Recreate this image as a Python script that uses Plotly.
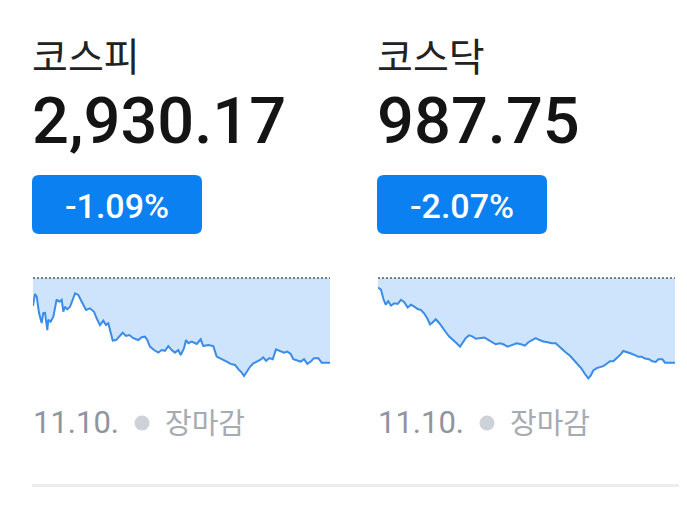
import plotly.graph_objects as go

# ---------------- data ----------------
names = ["코스피", "코스닥"]
closes = [2930.17, 987.75]
changes_pct = [-1.09, -2.07]
date_label = "11.10."
status_label = "장마감"

# minutes since 09:00
kospi_t = [0, 2.6, 4.9, 7.9, 11.4, 13.5, 15.8, 18.8, 20.1, 23.2, 26.7, 31.1, 34.5, 37.7, 39.8, 42.0, 45.0,
           48.6, 55.2, 59.5, 64.0, 69.6, 74.8, 80.1, 83.6, 88.0, 92.3, 95.9, 98.9, 102.0, 104.7, 109.0,
           113.3, 117.8, 122.1, 126.5, 131.7, 138.3, 142.7, 147.1, 150.1, 153.6, 158.9, 164.5, 169.0,
           173.3, 177.7, 182.1, 186.5, 190.8, 194.0, 198.3, 200.9, 203.9, 208.4, 215.0, 220.2, 223.6,
           230.2, 236.8, 241.2, 245.6, 249.9, 254.4, 259.6, 265.3, 269.6, 274.1, 277.1, 280.6, 285.0,
           289.3, 294.5, 298.1, 302.4, 306.0, 310.3, 314.8, 319.1, 324.4, 329.6, 334.0, 338.4, 341.8,
           346.3, 351.5, 355.9, 360.2, 364.7, 369.0, 374.7, 379.1, 390]
kospi_v = [2951.8, 2956.4, 2955.3, 2949.1, 2945.3, 2949.1, 2949.2, 2942.6, 2946.5, 2945.8, 2947.7, 2954.3,
           2953.4, 2954.1, 2949.6, 2951.5, 2950.5, 2951.5, 2956.6, 2956.0, 2953.4, 2950.3, 2950.9, 2949.6,
           2947.1, 2944.5, 2946.2, 2944.5, 2945.2, 2942.0, 2938.6, 2938.8, 2940.1, 2941.6, 2940.4, 2940.7,
           2939.5, 2938.8, 2939.9, 2940.1, 2938.8, 2936.3, 2935.0, 2934.0, 2935.0, 2934.7, 2936.5, 2935.0,
           2934.0, 2935.0, 2933.1, 2935.7, 2938.8, 2937.6, 2938.2, 2937.3, 2939.1, 2936.5, 2936.9, 2936.5,
           2932.5, 2931.9, 2931.5, 2930.6, 2929.7, 2929.3, 2927.7, 2926.4, 2925.1, 2926.7, 2928.6, 2929.9,
           2930.6, 2931.2, 2932.2, 2930.9, 2931.9, 2931.5, 2935.3, 2934.7, 2934.0, 2934.4, 2933.5, 2931.5,
           2931.2, 2930.6, 2931.5, 2929.7, 2930.6, 2931.9, 2931.9, 2930.17, 2930.17]

kosdaq_t = [0, 3.9, 7.0, 10.1, 13.5, 17.1, 21.4, 25.9, 30.2, 34.5, 39.0, 43.3, 47.7, 52.1, 56.5, 60.8, 65.3,
            68.3, 71.3, 75.8, 80.1, 84.4, 88.9, 93.2, 98.9, 103.3, 107.7, 110.7, 115.2, 119.5, 123.8, 128.3,
            133.9, 139.6, 144.8, 150.1, 154.5, 160.2, 164.5, 170.3, 175.6, 182.1, 187.8, 193.0, 197.4, 202.6,
            207.1, 211.4, 217.1, 222.8, 228.1, 233.3, 239.0, 245.6, 252.1, 257.8, 263.0, 267.5, 271.8, 276.2,
            279.3, 282.7, 287.2, 291.5, 295.9, 300.3, 304.6, 309.0, 313.4, 317.8, 322.1, 326.6, 332.2, 337.5,
            341.8, 346.3, 350.6, 355.9, 360.2, 364.7, 368.1, 373.4, 376.9, 390]
kosdaq_v = [1006.28, 1005.78, 1003.50, 1002.06, 1002.90, 1001.81, 1002.39, 1002.24, 1003.25, 1002.65, 1001.38,
            1002.06, 1001.56, 1000.98, 1000.73, 999.87, 998.45, 997.19, 997.60, 998.45, 997.60, 996.33, 995.32,
            994.24, 993.40, 992.55, 991.71, 992.55, 993.81, 994.49, 994.24, 993.66, 993.81, 993.98, 993.40,
            992.80, 992.29, 992.55, 992.29, 991.71, 992.14, 992.55, 992.29, 991.96, 992.80, 993.40, 993.81,
            993.40, 992.97, 992.80, 992.55, 992.55, 991.46, 990.45, 989.44, 988.35, 987.24, 986.23, 984.97,
            983.88, 984.57, 985.83, 986.41, 986.66, 986.91, 987.50, 988.10, 988.10, 988.76, 989.62, 990.63,
            990.27, 990.02, 989.62, 989.19, 989.19, 988.76, 988.61, 988.10, 987.92, 988.61, 988.61, 987.75,
            987.75]

series_t = [kospi_t, kosdaq_t]
series_v = [kospi_v, kosdaq_v]

# ---------------- styling / layout ----------------
# the page body has an 8px margin, so the figure is drawn 8px in from the window corner
OFF = 8
W, H = 687 - OFF, 524 - OFF
def px(x): return (x - OFF) / W
def py(y): return 1 - (y - OFF) / H

LINE = "#3b8ce6"
FILL = "rgba(205,228,252,1)"
BADGE = "#0b80f1"
col_left = [33, 378]

fig = go.Figure()
annotations = []
shapes = []

def rrect(x0, y0, x1, y1, r):
    rx, ry = r / W, r / H
    X0, X1 = px(x0), px(x1)
    Yt, Yb = py(y0), py(y1)
    return (f"M {X0+rx},{Yt} L {X1-rx},{Yt} Q {X1},{Yt} {X1},{Yt-ry} "
            f"L {X1},{Yb+ry} Q {X1},{Yb} {X1-rx},{Yb} L {X0+rx},{Yb} "
            f"Q {X0},{Yb} {X0},{Yb+ry} L {X0},{Yt-ry} Q {X0},{Yt} {X0+rx},{Yt} Z")

for i in range(2):
    xa = "x" if i == 0 else "x2"
    ya = "y" if i == 0 else "y2"
    prev = closes[i] / (1 + changes_pct[i] / 100)
    t, v = series_t[i], series_v[i]
    # baseline (previous close)
    fig.add_trace(go.Scatter(x=[t[0], t[-1]], y=[prev, prev], mode="lines",
                             line=dict(color="#555a60", width=1.5, dash="2px,2px"),
                             xaxis=xa, yaxis=ya, hoverinfo="skip", showlegend=False))
    fig.add_trace(go.Scatter(x=t, y=v, mode="lines", fill="tonexty", fillcolor=FILL,
                             line=dict(color=LINE, width=2),
                             xaxis=xa, yaxis=ya, showlegend=False))
    # axis scale: previous close at px 278, close at px 362.7; domain px 270..384
    s = (prev - closes[i]) / 84.7
    ymax = prev + 8 * s
    ymin = ymax - 114 * s
    L = col_left[i]
    ax = dict(domain=[px(L), px(L + 297)], range=[t[0], t[-1]], visible=False, fixedrange=True)
    ay = dict(domain=[py(384), py(270)], range=[ymin, ymax], visible=False, fixedrange=True)
    if i == 0:
        fig.update_layout(xaxis=ax, yaxis=ay)
    else:
        ax["anchor"] = "y2"; ay["anchor"] = "x2"
        fig.update_layout(xaxis2=ax, yaxis2=ay)

    # title
    annotations.append(dict(text=names[i], x=px(L - 3), y=py(54), xref="paper", yref="paper",
                            xanchor="left", yanchor="middle", showarrow=False,
                            font=dict(family="Noto Sans CJK KR", size=39, color="#222222")))
    # value
    annotations.append(dict(text=f"{closes[i]:,.2f}", x=px(L - 3), y=py(121), xref="paper", yref="paper",
                            xanchor="left", yanchor="middle", showarrow=False,
                            font=dict(family="Roboto", size=65, color="#141414", weight=500)))
    # badge
    bx0, bx1 = L - 1, L + 169
    shapes.append(dict(type="path", path=rrect(bx0, 175, bx1, 234, 7), xref="paper", yref="paper",
                       fillcolor=BADGE, line=dict(width=0), layer="below"))
    annotations.append(dict(text=f"{changes_pct[i]:.2f}%", x=px((bx0 + bx1) / 2), y=py(206), xref="paper",
                            yref="paper", xanchor="center", yanchor="middle", showarrow=False,
                            font=dict(family="Roboto", size=34, color="#ffffff", weight=500)))
    # footer
    annotations.append(dict(text=date_label, x=px(L - 2), y=py(422), xref="paper", yref="paper",
                            xanchor="left", yanchor="middle", showarrow=False,
                            font=dict(family="Roboto", size=31, color="#8e95a0")))
    cx = L + 109
    shapes.append(dict(type="circle", xref="paper", yref="paper",
                       x0=px(cx - 7.5), x1=px(cx + 7.5), y0=py(423 + 7.5), y1=py(423 - 7.5),
                       fillcolor="#cdd1d8", line=dict(width=0)))
    annotations.append(dict(text=status_label, x=px(L + 130), y=py(421), xref="paper", yref="paper",
                            xanchor="left", yanchor="middle", showarrow=False,
                            font=dict(family="Noto Sans CJK KR", size=29, color="#a6abb3")))

# divider
shapes.append(dict(type="line", xref="paper", yref="paper", x0=px(32), x1=1.0, y0=py(485.5), y1=py(485.5),
                   line=dict(color="#ededed", width=3)))

fig.update_layout(width=W, height=H, margin=dict(l=0, r=0, t=0, b=0),
                  paper_bgcolor="white", plot_bgcolor="rgba(0,0,0,0)",
                  annotations=annotations, shapes=shapes, showlegend=False)

fig.write_html("out.html", config={"displayModeBar": False})
